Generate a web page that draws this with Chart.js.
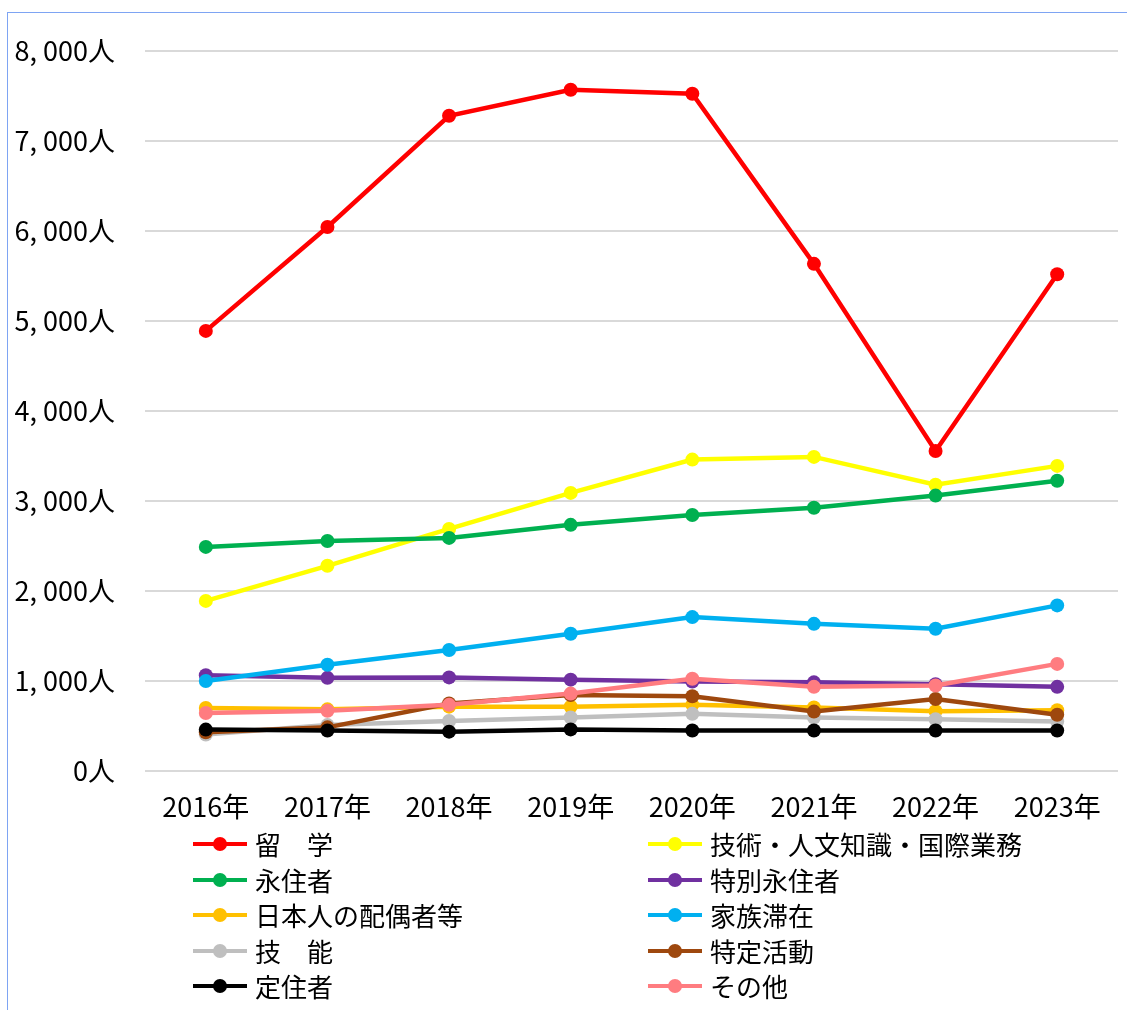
<!DOCTYPE html>
<html>
<head>
<meta charset="utf-8">
<script src="https://cdn.jsdelivr.net/npm/chart.js@4.4.0/dist/chart.umd.min.js"></script>
<style>
    body { margin: 0; background: #fff; }
    #frame {
        position: absolute; left: 7px; top: 12px; width: 1200px; height: 1100px;
        border-top: 1px solid #7ea4f3; border-left: 1px solid #7ea4f3;
    }
    #wrap { position: absolute; left: 0; top: 0; width: 1127px; height: 831px; }
    #legend {
        position: absolute; left: 0; top: 826px; width: 1127px;
        font-family: 'Noto Sans CJK JP', sans-serif; font-size: 26px; color: #000;
    }
    .item { position: absolute; height: 36px; line-height: 36px; white-space: nowrap; }
    .mark { position: absolute; top: 16px; width: 54px; height: 4px; }
    .dot { position: absolute; left: 20px; top: -5px; width: 14px; height: 14px; border-radius: 50%; }
    .txt { position: absolute; left: 62px; top: 0; }
</style>
</head>
<body>
<div id="frame"></div>
<div id="wrap"><canvas id="chart1" width="1127" height="831"></canvas></div>
<div id="legend"></div>
<script>
const years = ['2016年', '2017年', '2018年', '2019年', '2020年', '2021年', '2022年', '2023年'];
const names = ['留　学', '技術・人文知識・国際業務', '永住者', '特別永住者', '日本人の配偶者等',
    '家族滞在', '技　能', '特定活動', '定住者', 'その他'];
const colors = ['#ff0000', '#ffff00', '#00b050', '#7030a0', '#ffc000',
    '#00b0f0', '#bfbfbf', '#9e480e', '#000000', '#ff7c80'];

const ryugaku = [4890, 6045, 7280, 7570, 7525, 5635, 3555, 5520];
const gijutsu = [1890, 2280, 2690, 3090, 3460, 3490, 3180, 3390];
const eijusha = [2490, 2555, 2590, 2735, 2845, 2925, 3060, 3225];
const tokubetsu = [1065, 1035, 1040, 1015, 995, 985, 965, 935];
const haigusha = [700, 685, 715, 715, 735, 705, 665, 675];
const kazoku = [1000, 1180, 1345, 1525, 1710, 1635, 1580, 1840];
const ginou = [405, 510, 555, 595, 635, 595, 575, 550];
const tokutei = [430, 485, 750, 845, 830, 660, 800, 625];
const teijusha = [460, 450, 437, 462, 450, 450, 450, 450];
const sonota = [645, 670, 735, 860, 1025, 935, 950, 1190];
const series = [ryugaku, gijutsu, eijusha, tokubetsu, haigusha, kazoku, ginou, tokutei, teijusha, sonota];

const yTicks = [0, 1000, 2000, 3000, 4000, 5000, 6000, 7000, 8000];
const tickFont = { family: "'Noto Sans CJK JP', sans-serif", size: 27 };

document.addEventListener('DOMContentLoaded', function() {
    const ctx = document.getElementById('chart1').getContext('2d');
    new Chart(ctx, {
        type: 'line',
        data: {
            labels: years,
            datasets: series.map((vals, i) => ({
                label: names[i],
                data: vals,
                borderColor: colors[i],
                backgroundColor: colors[i],
                borderWidth: 4.5,
                pointRadius: 7,
                pointHoverRadius: 7,
                pointBorderWidth: 0,
                tension: 0,
                order: series.length - i
            }))
        },
        options: {
            responsive: false,
            animation: false,
            layout: { padding: { top: 51, right: 9, left: 0, bottom: 0 } },
            plugins: { legend: { display: false }, tooltip: { enabled: false } },
            scales: {
                x: {
                    offset: true,
                    grid: { display: false, drawTicks: false },
                    border: { display: false },
                    ticks: { color: '#000', font: tickFont, padding: 20, maxRotation: 0 },
                    afterFit: s => { s.height = 60; }
                },
                y: {
                    min: 0, max: 8000,
                    afterBuildTicks: s => { s.ticks = yTicks.map(v => ({ value: v })); },
                    grid: { color: '#d9d9d9', lineWidth: 2, drawTicks: false },
                    border: { display: false },
                    ticks: {
                        color: '#000', font: tickFont, padding: 30,
                        callback: v => v.toLocaleString('en-US').replace(',', ', ') + '人'
                    },
                    afterFit: s => { s.width = 145; }
                }
            }
        }
    });

    // legend, two columns like the original
    const legend = document.getElementById('legend');
    names.forEach((name, i) => {
        const col = i % 2, row = Math.floor(i / 2);
        const item = document.createElement('div');
        item.className = 'item';
        item.style.left = (col ? 648 : 193) + 'px';
        item.style.top = (row * 35.5) + 'px';
        item.innerHTML = '<div class="mark" style="background:' + colors[i] + '">' +
            '<div class="dot" style="background:' + colors[i] + '"></div></div>' +
            '<span class="txt">' + name + '</span>';
        legend.appendChild(item);
    });
});
</script>
</body>
</html>
